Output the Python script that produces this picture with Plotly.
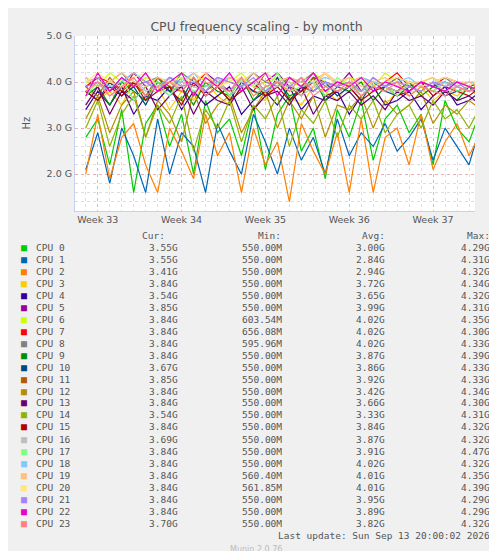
import plotly.graph_objects as go

days = list(range(0, 35))  # one sample per day, day 0 = start of graph
week_tick_days = [1, 8, 15, 22, 29]
week_labels = ["Week 33", "Week 34", "Week 35", "Week 36", "Week 37"]

names = [f"CPU {i}" for i in range(24)]
colors = ["#00CC00", "#0066B3", "#FF8000", "#FFCC00", "#330099", "#990099", "#CCFF00", "#FF0000",
          "#808080", "#008F00", "#00487D", "#B35A00", "#B38F00", "#6B006B", "#8FB300", "#B30000",
          "#BEBEBE", "#80FF80", "#80C9FF", "#FFC080", "#FFE680", "#AA80FF", "#EE00CC", "#FF8080"]
cur = ["3.55G","3.55G","3.41G","3.84G","3.54G","3.85G","3.84G","3.84G","3.84G","3.84G","3.67G","3.85G",
       "3.84G","3.84G","3.54G","3.84G","3.69G","3.84G","3.84G","3.84G","3.84G","3.84G","3.84G","3.70G"]
mins = ["550.00M","550.00M","550.00M","550.00M","550.00M","550.00M","603.54M","656.08M","595.96M","550.00M",
        "550.00M","550.00M","550.00M","550.00M","550.00M","550.00M","550.00M","550.00M","550.00M","560.40M",
        "561.85M","550.00M","550.00M","550.00M"]
avgs = ["3.00G","2.84G","2.94G","3.72G","3.65G","3.99G","4.02G","4.02G","4.02G","3.87G","3.86G","3.92G",
        "3.42G","3.66G","3.33G","3.84G","3.87G","3.91G","4.02G","4.01G","4.01G","3.95G","3.89G","3.82G"]
maxs = ["4.29G","4.31G","4.32G","4.34G","4.32G","4.31G","4.35G","4.30G","4.33G","4.39G","4.33G","4.33G",
        "4.34G","4.30G","4.31G","4.32G","4.32G","4.47G","4.32G","4.35G","4.39G","4.29G","4.29G","4.32G"]

cpu0 = [2.8,3.2,2.2,3.4,1.6,3.1,3.5,2.6,3.3,2.0,3.6,2.9,3.2,2.4,3.5,2.1,3.3,3.7,2.5,3.0,1.9,3.4,2.8,3.6,2.3,3.2,3.5,2.9,3.3,2.2,3.6,3.0,2.7,3.4,3.55]
cpu1 = [2.1,2.9,1.8,3.0,2.4,1.6,3.2,2.0,2.9,2.6,1.6,3.1,2.5,2.0,3.3,2.7,2.0,3.0,2.3,2.8,2.0,3.2,2.4,2.9,2.6,3.1,2.5,2.8,3.2,2.3,3.0,2.6,2.2,3.1,3.55]
cpu2 = [2.0,3.3,1.9,2.8,3.1,2.2,1.6,3.0,2.5,1.9,3.3,2.4,2.9,1.6,3.0,2.2,2.7,1.4,3.1,2.5,2.0,2.9,1.6,3.2,1.6,2.8,3.0,2.2,3.3,2.1,2.7,3.1,2.4,2.9,3.41]
cpu3 = [3.9,3.6,3.8,3.5,4.0,3.7,3.9,3.4,3.8,3.6,4.0,3.7,3.5,3.9,3.8,3.6,4.1,3.7,3.5,3.9,3.8,3.6,4.0,3.7,3.9,3.5,3.8,3.7,3.9,3.6,3.8,3.7,3.9,3.6,3.84]
cpu4 = [3.4,3.8,3.5,3.9,3.3,3.7,3.6,3.9,3.4,3.8,3.5,3.7,3.9,3.3,3.6,3.8,3.5,3.9,3.4,3.7,3.6,3.8,3.3,3.7,3.9,3.5,3.6,3.8,3.4,3.7,3.9,3.5,3.6,3.8,3.54]
cpu5 = [3.9,4.1,3.8,4.0,4.2,3.9,4.0,3.8,4.1,3.9,4.2,4.0,3.8,4.1,3.9,4.0,4.2,3.9,3.8,4.1,4.0,3.9,4.2,3.8,4.0,3.9,4.1,3.8,4.0,3.9,4.0,3.8,3.9,4.0,3.85]
cpu6 = [4.0,3.9,4.2,4.0,3.9,4.1,4.0,3.9,4.2,4.0,4.1,3.9,4.0,4.2,3.9,4.0,4.1,4.0,3.9,4.2,4.0,3.9,4.1,4.0,3.9,4.2,4.0,3.9,4.0,4.1,3.9,4.0,3.9,4.0,3.84]
cpu7 = [3.9,4.1,4.0,3.8,4.2,4.0,3.9,4.1,4.0,3.9,4.2,3.9,4.1,4.0,3.8,4.2,4.0,4.1,3.9,4.0,4.2,3.9,4.0,4.1,3.9,4.0,4.2,3.9,4.0,3.9,4.1,4.0,3.9,4.0,3.84]
cpu8 = [4.1,3.9,4.0,4.2,3.9,4.0,4.1,3.8,4.2,4.0,3.9,4.1,4.0,3.9,4.2,4.0,3.9,4.1,4.0,4.2,3.9,4.0,3.9,4.1,4.0,3.9,4.1,4.0,3.9,4.0,4.1,3.9,4.0,3.9,3.84]
cpu9 = [3.7,3.9,3.5,4.0,3.8,3.6,4.1,3.8,3.9,3.5,4.0,3.8,3.7,4.1,3.6,3.9,4.0,3.7,3.8,4.1,3.6,3.9,3.8,4.0,3.6,3.9,3.8,4.0,3.7,3.9,3.8,3.6,3.9,3.8,3.84]
cpu10 = [3.8,3.6,4.0,3.7,3.9,3.5,4.0,3.8,3.6,4.1,3.7,3.9,3.6,4.0,3.8,3.7,4.1,3.6,3.9,3.8,4.0,3.7,3.9,3.6,4.0,3.8,3.7,3.9,3.8,4.0,3.7,3.8,3.9,3.7,3.67]
cpu11 = [3.9,3.7,4.1,3.8,4.0,3.7,4.1,3.9,3.8,4.1,3.8,4.0,3.7,4.1,3.9,3.8,4.0,3.9,3.7,4.1,3.8,4.0,3.9,3.8,4.1,3.9,3.8,4.0,3.9,3.8,4.0,3.9,3.8,4.0,3.85]
cpu12 = [3.2,3.7,2.9,3.5,3.8,2.8,3.6,3.3,2.7,3.8,3.1,3.5,3.7,2.9,3.4,3.8,3.0,3.6,3.2,3.7,2.8,3.5,3.4,3.7,3.0,3.6,3.3,3.5,3.8,3.1,3.5,3.3,3.6,3.4,3.84]
cpu13 = [3.5,3.9,3.3,3.8,3.6,3.9,3.4,3.7,3.9,3.3,3.8,3.6,3.5,3.9,3.4,3.7,3.8,3.5,3.9,3.3,3.7,3.6,3.8,3.5,3.7,3.4,3.8,3.6,3.7,3.5,3.8,3.6,3.7,3.5,3.84]
cpu14 = [3.0,3.6,2.6,3.3,3.7,2.8,3.5,3.1,3.7,2.5,3.4,3.0,3.6,2.7,3.5,3.2,3.7,2.6,3.4,3.1,3.6,2.8,3.5,3.2,3.6,2.9,3.3,3.5,3.0,3.6,3.2,3.4,3.0,3.5,3.54]
cpu15 = [3.8,3.6,3.9,3.7,4.0,3.6,3.8,3.9,3.5,4.0,3.7,3.9,3.6,3.8,4.0,3.7,3.9,3.6,3.8,4.0,3.7,3.8,3.9,3.6,3.8,3.9,3.7,3.8,4.0,3.7,3.9,3.8,3.7,3.9,3.84]
cpu16 = [3.8,4.0,3.7,3.9,4.1,3.8,3.9,3.7,4.0,3.9,3.8,4.1,3.7,3.9,4.0,3.8,3.9,4.0,3.7,3.9,4.0,3.8,3.9,3.7,4.0,3.9,3.8,3.9,3.8,4.0,3.8,3.9,3.8,3.9,3.69]
cpu17 = [3.7,4.0,3.8,4.1,3.6,3.9,4.0,3.7,4.1,3.8,3.9,4.0,3.7,4.1,3.9,3.8,4.2,3.8,3.9,4.0,3.7,4.1,3.9,3.8,4.0,3.9,3.7,4.0,3.9,3.8,4.0,3.8,3.9,3.8,3.84]
cpu18 = [4.0,4.1,3.9,4.0,4.2,4.0,3.9,4.1,4.0,4.2,3.9,4.0,4.1,4.0,3.9,4.2,4.0,4.1,3.9,4.0,4.1,4.0,3.9,4.1,4.0,3.9,4.0,4.1,3.9,4.0,4.0,3.9,4.0,4.0,3.84]
cpu19 = [4.1,3.9,4.0,4.2,4.0,3.9,4.1,4.0,3.9,4.2,4.0,3.9,4.1,4.0,4.2,3.9,4.0,4.1,4.0,3.9,4.2,4.0,4.1,3.9,4.0,4.1,3.9,4.0,4.0,4.1,3.9,4.0,4.0,3.9,3.84]
cpu20 = [4.0,4.2,4.0,3.9,4.1,4.2,3.9,4.0,4.1,4.0,4.2,3.9,4.0,4.1,3.9,4.2,4.0,3.9,4.1,4.0,4.2,3.9,4.0,4.1,3.9,4.0,4.1,4.0,3.9,4.0,4.1,4.0,3.9,4.1,3.84]
cpu21 = [3.9,4.0,3.8,4.1,3.9,4.0,3.8,4.1,3.9,4.0,3.8,4.1,4.0,3.9,4.1,3.8,4.0,3.9,4.1,3.8,4.0,3.9,4.0,3.8,4.1,3.9,4.0,3.9,3.8,4.0,3.9,4.0,3.8,3.9,3.84]
cpu22 = [3.7,4.2,3.8,4.1,3.9,4.2,3.8,4.0,4.2,3.7,4.1,3.9,4.2,3.8,4.0,4.2,3.7,4.1,3.9,4.2,3.8,4.0,3.9,4.1,3.8,4.0,3.9,3.8,4.0,3.9,3.8,4.0,3.9,3.8,3.84]
cpu23 = [3.8,4.0,3.7,3.9,4.1,3.7,3.9,4.0,3.8,4.1,3.7,3.9,3.8,4.1,3.7,3.9,4.0,3.8,4.1,3.7,3.9,3.8,4.0,3.7,3.9,3.8,4.0,3.7,3.9,3.8,3.7,3.9,3.8,3.9,3.70]

series = [cpu0,cpu1,cpu2,cpu3,cpu4,cpu5,cpu6,cpu7,cpu8,cpu9,cpu10,cpu11,cpu12,cpu13,cpu14,cpu15,
          cpu16,cpu17,cpu18,cpu19,cpu20,cpu21,cpu22,cpu23]

fig = go.Figure()
for n, c, s in zip(names, colors, series):
    fig.add_trace(go.Scatter(x=days, y=[v * 1e9 for v in s], mode="lines", name=n,
                             line=dict(color=c, width=1.2), showlegend=False))

W, H = 497, 551
L, R, T, B = 67, 467, 28, 203
def px(xp): return (xp - L) / (R - L)
def py(yp): return (B - yp) / (B - T)

mono = "DejaVu Sans Mono"
ann = []
def txt(x, y, t, anchor="left", size=9.5, color="#555", font=mono):
    ann.append(dict(xref="paper", yref="paper", x=x, y=y, text=t, showarrow=False,
                    xanchor=anchor, yanchor="middle", font=dict(family=font, size=size, color=color)))

txt(px(159), py(227), "Cur:", "right")
txt(px(275), py(227), "Min:", "right")
txt(px(379), py(227), "Avg:", "right")
txt(px(484), py(227), "Max:", "right")
for i in range(24):
    y = 239 + i * 12
    txt(px(11), py(y), "■", "left", size=10, color=colors[i])
    txt(px(26), py(y), names[i])
    txt(px(172), py(y), cur[i], "right")
    txt(px(276), py(y), mins[i], "right")
    txt(px(379), py(y), avgs[i], "right")
    txt(px(484), py(y), maxs[i], "right")
txt(px(484), py(527), "Last update: Sun Sep 13 20:00:02 2026", "right")
txt(px(248), py(541), "Munin 2.0.76", "center", size=8, color="#bbb", font="DejaVu Sans")
ann.append(dict(xref="paper", yref="paper", x=px(487), y=py(56), text="RRDTOOL / TOBI OETIKER",
                showarrow=False, textangle=90, xanchor="center", yanchor="middle",
                font=dict(family="DejaVu Sans", size=7.5, color="#ccc")))
ann.append(dict(xref="paper", yref="paper", x=px(10), y=py(115), text="Hz", showarrow=False,
                textangle=-90, font=dict(family="DejaVu Sans", size=10, color="#555")))

fig.update_layout(
    width=W, height=H, paper_bgcolor="#F0F0F0", plot_bgcolor="#FFFFFF",
    margin=dict(l=L, r=W - R, t=T, b=H - B),
    title=dict(text="CPU frequency scaling - by month", x=0.5, xanchor="center", y=1 - 19 / H,
               yanchor="middle", font=dict(family="DejaVu Sans", size=12.5, color="#555")),
    annotations=ann,
    xaxis=dict(range=[-0.9, 32.5], tickvals=week_tick_days, ticktext=week_labels,
               showgrid=True, gridcolor="#E8B0B0", griddash="dot", gridwidth=1,
               minor=dict(dtick=1, showgrid=True, gridcolor="#DDDDDD", griddash="dot"),
               tickfont=dict(family="DejaVu Sans", size=9.5, color="#555"),
               showline=True, linecolor="#C8D0F0", zeroline=False, ticks=""),
    yaxis=dict(range=[1.2e9, 5.0e9], tickvals=[2e9, 3e9, 4e9, 5e9],
               ticktext=["2.0 G", "3.0 G", "4.0 G", "5.0 G"],
               showgrid=True, gridcolor="#E8B0B0", griddash="dot",
               minor=dict(dtick=0.2e9, showgrid=True, gridcolor="#DDDDDD", griddash="dot"),
               tickfont=dict(family="DejaVu Sans", size=9.5, color="#555"),
               showline=True, linecolor="#C8D0F0", zeroline=False, ticks=""),
)
fig.write_html("out.html")
